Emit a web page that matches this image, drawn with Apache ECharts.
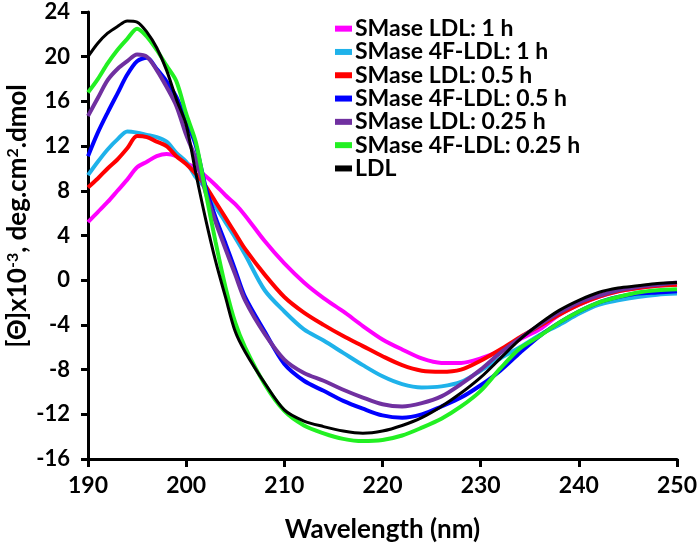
<!DOCTYPE html>
<html>
<head>
<meta charset="utf-8">
<script src="https://cdn.jsdelivr.net/npm/echarts@6/dist/echarts.min.js"></script>
<style>
html,body{margin:0;padding:0;background:#fff;}
#chart{width:700px;height:548px;}
</style>
</head>
<body>
<div id="chart"></div>
<script>
var wavelength = [190,191,192,193,194,195,196,197,198,199,200,201,202,203,204,205,206,208,210,212,214,216,218,220,222,224,226,228,230,232,234,236,238,240,242,244,246,248,250];

var smaseLDL1h = [5.2,6.1,7.0,8.0,9.0,10.1,10.6,11.1,11.3,11.1,10.5,10.0,9.3,8.5,7.6,6.8,5.8,3.5,1.5,-0.2,-1.6,-2.8,-4.1,-5.3,-6.2,-7.0,-7.4,-7.4,-7.0,-6.3,-5.3,-4.4,-3.1,-2.2,-1.5,-1.0,-0.7,-0.5,-0.4];
var smase4F1h = [9.4,10.6,11.7,12.6,13.3,13.2,13.0,12.8,12.4,11.4,10.6,9.2,8.2,6.6,5.2,3.8,2.3,-0.9,-2.8,-4.4,-5.4,-6.5,-7.6,-8.6,-9.3,-9.6,-9.5,-9.1,-8.1,-7.0,-6.0,-4.9,-4.0,-3.0,-2.2,-1.8,-1.5,-1.3,-1.2];
var smaseLDL05h = [8.3,9.1,10.0,10.8,11.8,12.9,12.8,12.4,12.0,11.1,10.4,9.5,8.4,7.0,5.6,4.2,2.8,0.5,-1.5,-2.9,-4.0,-5.0,-5.9,-6.8,-7.6,-8.1,-8.2,-8.0,-7.2,-6.2,-5.1,-4.1,-3.1,-2.2,-1.5,-1.0,-0.7,-0.5,-0.4];
var smase4F05h = [11.1,13.2,15.0,16.7,18.4,19.6,19.9,18.9,17.8,16.4,14.3,12.0,8.3,5.6,3.3,0.9,-1.5,-4.6,-7.5,-9.0,-9.9,-10.8,-11.5,-12.1,-12.3,-12.0,-11.3,-10.5,-9.4,-8.1,-6.5,-5.0,-3.8,-2.8,-2.0,-1.5,-1.2,-1.1,-1.0];
var smaseLDL025h = [14.7,16.3,17.9,18.9,19.6,20.2,20.0,18.8,17.3,15.6,13.0,10.8,7.8,5.2,2.8,0.5,-1.8,-4.8,-7.1,-8.3,-9.0,-9.8,-10.5,-11.1,-11.3,-11.0,-10.4,-9.3,-8.0,-6.5,-5.2,-4.0,-2.9,-2.0,-1.4,-0.9,-0.6,-0.4,-0.2];
var smase4F025h = [16.8,18.0,19.4,20.6,21.6,22.5,21.8,20.6,19.2,17.8,14.9,12.3,7.8,3.4,-0.6,-3.8,-6.0,-9.3,-11.7,-13.0,-13.7,-14.2,-14.4,-14.3,-13.9,-13.2,-12.4,-11.3,-9.9,-7.9,-6.1,-5.0,-3.8,-2.8,-2.0,-1.5,-1.1,-0.9,-0.8];
var ldl = [20.0,21.2,22.1,22.7,23.2,23.1,22.2,20.8,18.8,16.2,13.9,9.5,5.4,1.7,-1.5,-4.6,-6.4,-9.2,-11.6,-12.6,-13.1,-13.5,-13.7,-13.5,-13.0,-12.3,-11.3,-10.1,-8.7,-7.0,-5.3,-3.9,-2.7,-1.8,-1.1,-0.7,-0.5,-0.3,-0.2];

var seriesNames = ['SMase LDL: 1 h','SMase 4F-LDL: 1 h','SMase LDL: 0.5 h','SMase 4F-LDL: 0.5 h','SMase LDL: 0.25 h','SMase 4F-LDL: 0.25 h','LDL'];
var seriesData = [smaseLDL1h, smase4F1h, smaseLDL05h, smase4F05h, smaseLDL025h, smase4F025h, ldl];
var colors = ['#FF00FF','#1FB2EA','#FF0000','#0000FF','#7030A0','#22F022','#000000'];
var widths = [4,4,4,4,4,4,3];

var FONT = 'Lato, "Open Sans", sans-serif';

function pairs(arr){ return wavelength.map(function(w,i){ return [w, arr[i]]; }); }

var chart = echarts.init(document.getElementById('chart'));
var option = {
  backgroundColor: '#fff',
  animation: false,
  color: colors,
  grid: {left: 88, right: 22, top: 12, bottom: 83, containLabel: false},
  legend: {
    orient: 'vertical',
    left: 330, top: 12,
    icon: 'rect',
    itemWidth: 17, itemHeight: 6,
    itemGap: 0,
    textStyle: {fontFamily: FONT, fontWeight: 'bold', fontSize: 23, color: '#000', lineHeight: 23.3, padding: [0,0,0,-2]},
    data: seriesNames
  },
  xAxis: {
    type: 'value', min: 190, max: 250, interval: 10,
    name: 'Wavelength (nm)', nameLocation: 'middle', nameGap: 58,
    nameTextStyle: {fontFamily: FONT, fontWeight: 'bold', fontSize: 26, color: '#000'},
    axisLine: {onZero: false, lineStyle: {color: '#000', width: 3}},
    axisTick: {show: true, length: 8, lineStyle: {color: '#000', width: 3}},
    axisLabel: {margin: 15, fontFamily: FONT, fontWeight: 'bold', fontSize: 23, color: '#000'},
    splitLine: {show: false}
  },
  yAxis: {
    type: 'value', min: -16, max: 24, interval: 4,
    axisLine: {show: true, onZero: false, lineStyle: {color: '#000', width: 3}},
    axisTick: {show: true, length: 7, lineStyle: {color: '#000', width: 3}},
    axisLabel: {margin: 18, fontFamily: FONT, fontWeight: 'bold', fontSize: 22, color: '#000'},
    splitLine: {show: false}
  },
  graphic: [{
    type: 'text',
    x: 18, y: 216,
    rotation: Math.PI / 2,
    style: {
      text: '[Θ]x10{sup|-3}, deg.cm{sup|2}.dmol',
      font: 'bold 26px ' + FONT,
      fill: '#000',
      align: 'center',
      verticalAlign: 'middle',
      rich: {
        sup: {fontFamily: FONT, fontWeight: 'bold', fontSize: 16, fill: '#000', verticalAlign: 'top', padding: [0,0,10,0]}
      }
    }
  }],
  series: seriesNames.map(function(n, i){
    return {
      name: n, type: 'line', data: pairs(seriesData[i]),
      smooth: 0.3, showSymbol: false, symbol: 'none',
      lineStyle: {color: colors[i], width: widths[i]},
      itemStyle: {color: colors[i]}
    };
  })
};
chart.setOption(option);
</script>
</body>
</html>
